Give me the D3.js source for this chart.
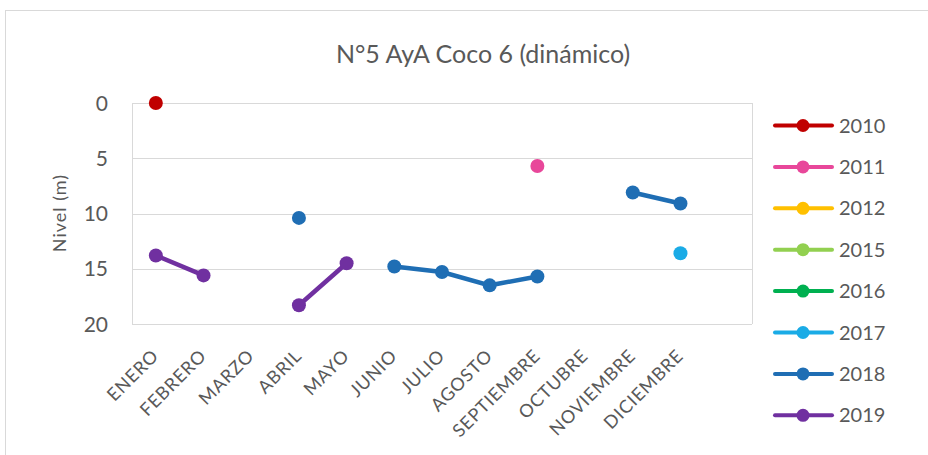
<!DOCTYPE html>
<html><head><meta charset="utf-8">
<script src="https://cdn.jsdelivr.net/npm/d3@7"></script>
<style>body{margin:0;background:#fff;}svg{display:block;font-family:Lato,"Open Sans",sans-serif;}</style>
</head><body>
<script>
const months = ["ENERO","FEBRERO","MARZO","ABRIL","MAYO","JUNIO","JULIO","AGOSTO","SEPTIEMBRE","OCTUBRE","NOVIEMBRE","DICIEMBRE"];
const years = ["2010","2011","2012","2015","2016","2017","2018","2019"];
const colors = ["#C00000","#E8479A","#FFC000","#92D050","#00B050","#1AABE6","#1F6EB4","#7030A0"];
const v2010 = [0,null,null,null,null,null,null,null,null,null,null,null];
const v2011 = [null,null,null,null,null,null,null,null,5.7,null,null,null];
const v2012 = [null,null,null,null,null,null,null,null,null,null,null,null];
const v2015 = [null,null,null,null,null,null,null,null,null,null,null,null];
const v2016 = [null,null,null,null,null,null,null,null,null,null,null,null];
const v2017 = [null,null,null,null,null,null,null,null,null,null,null,13.6];
const v2018 = [null,null,null,10.4,null,14.8,15.3,16.5,15.7,null,8.1,9.1];
const v2019 = [13.8,15.6,null,18.3,14.5,null,null,null,null,null,null,null];
const yTicks = [0,5,10,15,20];
const series = [v2010,v2011,v2012,v2015,v2016,v2017,v2018,v2019];

const W=928,H=455;
const svg=d3.select("body").append("svg").attr("width",W).attr("height",H);
svg.append("rect").attr("x",5.5).attr("y",10.5).attr("width",940).attr("height",460).attr("fill","#fff").attr("stroke","#d9d9d9");
const L=132,R=752,T=103,B=324;
// category axis has one extra empty slot at the end, as in the original
const x=d3.scaleBand().domain([...months," "]).range([L,R]);
const y=d3.scaleLinear().domain([0,20]).range([T,B]);
const cx=m=>x(m)+x.bandwidth()/2;

svg.append("text").attr("x",483).attr("y",63).attr("text-anchor","middle").attr("font-size",25).attr("fill","#595959").text("N°5 AyA Coco 6 (dinámico)");

const g=svg.append("g");
yTicks.forEach(t=>{
  g.append("line").attr("x1",L).attr("x2",R).attr("y1",Math.round(y(t))+0.5).attr("y2",Math.round(y(t))+0.5).attr("stroke","#d9d9d9").attr("stroke-width",1);
  g.append("text").attr("x",108).attr("y",y(t)+7.5).attr("text-anchor","end").attr("font-size",21).attr("fill","#595959").text(t);
});
g.append("line").attr("x1",R+0.5).attr("x2",R+0.5).attr("y1",T).attr("y2",B).attr("stroke","#d9d9d9");
g.append("line").attr("x1",L+0.5).attr("x2",L+0.5).attr("y1",T).attr("y2",B).attr("stroke","#d9d9d9");

svg.append("text").attr("transform","translate(66,213) rotate(-90)").attr("text-anchor","middle").attr("font-size",18).attr("letter-spacing",1).attr("fill","#595959").text("Nivel (m)");

months.forEach(m=>{
  svg.append("text").attr("transform",`translate(${cx(m)+4},357) rotate(-45)`).attr("text-anchor","end").attr("font-size",18).attr("letter-spacing",0.8).attr("fill","#595959").text(m);
});

const line=d3.line().defined(d=>d!=null).x((d,i)=>cx(months[i])).y(d=>y(d));
series.forEach((s,k)=>{
  svg.append("path").attr("d",line(s)).attr("fill","none").attr("stroke",colors[k]).attr("stroke-width",4.5).attr("stroke-linecap","round");
  s.forEach((d,i)=>{ if(d!=null) svg.append("circle").attr("cx",cx(months[i])).attr("cy",y(d)).attr("r",7).attr("fill",colors[k]); });
});

years.forEach((yr,k)=>{
  const ly=125.5+k*41.4;
  svg.append("line").attr("x1",775).attr("x2",832).attr("y1",ly).attr("y2",ly).attr("stroke",colors[k]).attr("stroke-width",4).attr("stroke-linecap","round");
  svg.append("circle").attr("cx",803).attr("cy",ly).attr("r",6.5).attr("fill",colors[k]);
  svg.append("text").attr("x",839).attr("y",ly+7).attr("font-size",20).attr("fill","#595959").text(yr);
});
</script>
</body></html>
